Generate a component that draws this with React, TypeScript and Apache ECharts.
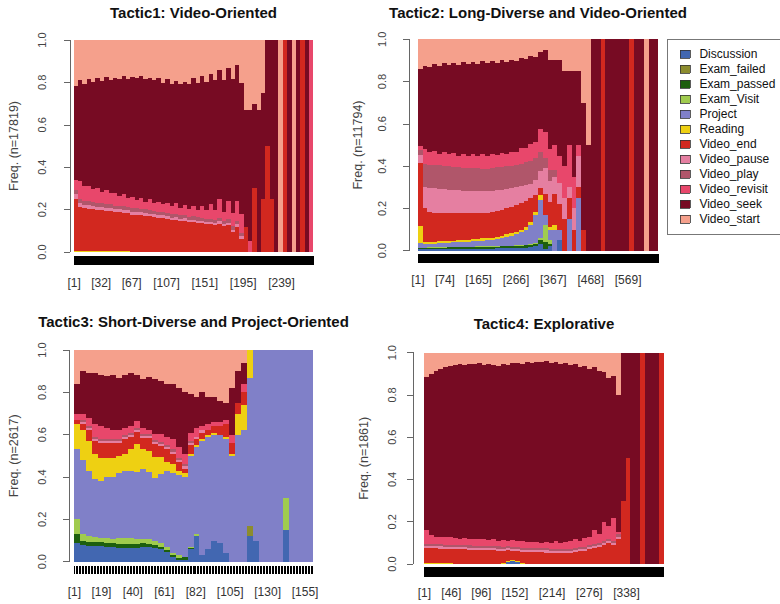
import { useEffect, useRef } from "react";
import * as echarts from "echarts";

const FONT = '"Liberation Sans", Arial, Helvetica, sans-serif';

const STATES = [
  "Discussion", "Exam_failed", "Exam_passed", "Exam_Visit", "Project", "Reading",
  "Video_end", "Video_pause", "Video_play", "Video_revisit", "Video_seek", "Video_start",
];
const STATE_COLORS = [
  "#4267b1", "#8c8c2e", "#1d5f0e", "#a0cb4e", "#8080c8", "#eed012",
  "#d2281f", "#e57fa1", "#b0566a", "#e8476b", "#770b23", "#f5a08c",
];

// ---------------- Tactic1 (275 positions, bins of 5) ----------------
const t1Title = "Tactic1: Video-Oriented";
const t1N = 17819;
const t1PositionCount = 275;
const t1TickLabels = [1, 32, 67, 107, 151, 195, 239];
const t1Reading = [
  0.006, 0.006, 0.005, 0.005, 0.005, 0.004, 0.004, 0.004, 0.004, 0.003,
  0.003, 0.003, 0.003, 0.002, 0.002, 0.002, 0.002, 0.002, 0, 0,
  0, 0, 0, 0, 0, 0, 0, 0, 0, 0,
  0, 0, 0, 0, 0, 0, 0, 0, 0, 0,
  0, 0, 0, 0, 0, 0, 0, 0, 0, 0,
  0, 0, 0, 0, 0,
];
const t1End = [
  0.25, 0.21, 0.205, 0.2, 0.2, 0.195, 0.195, 0.19, 0.19, 0.185,
  0.185, 0.18, 0.18, 0.175, 0.175, 0.17, 0.17, 0.165, 0.165, 0.16,
  0.16, 0.155, 0.15, 0.15, 0.145, 0.145, 0.14, 0.14, 0.135, 0.135,
  0.13, 0.13, 0.125, 0.13, 0.12, 0.125, 0.09, 0.12, 0.06, 0.12,
  0, 0.3, 0, 0.25, 0.5, 0.25, 0, 0, 1, 0,
  0, 0, 1, 0, 0,
];
const t1Pause = [
  0.02, 0.018, 0.017, 0.016, 0.016, 0.015, 0.015, 0.015, 0.015, 0.014,
  0.014, 0.014, 0.014, 0.014, 0.013, 0.013, 0.013, 0.013, 0.013, 0.013,
  0.013, 0.012, 0.012, 0.012, 0.012, 0.012, 0.012, 0.012, 0.012, 0.012,
  0.012, 0.012, 0.012, 0.012, 0.012, 0.012, 0.012, 0.012, 0.012, 0,
  0, 0, 0, 0, 0, 0, 0, 0, 0, 0,
  0, 0, 0, 0, 0,
];
const t1Play = [
  0.02, 0.02, 0.02, 0.019, 0.019, 0.019, 0.018, 0.018, 0.018, 0.018,
  0.018, 0.018, 0.017, 0.017, 0.017, 0.017, 0.017, 0.017, 0.016, 0.016,
  0.016, 0.016, 0.016, 0.016, 0.016, 0.016, 0.015, 0.015, 0.015, 0.015,
  0.015, 0.015, 0.015, 0.015, 0.015, 0.015, 0.015, 0.015, 0.015, 0,
  0, 0, 0, 0, 0, 0, 0, 0, 0, 0,
  0, 0, 0, 0, 0,
];
const t1Revisit = [
  0.05, 0.085, 0.07, 0.075, 0.06, 0.07, 0.055, 0.065, 0.05, 0.06,
  0.045, 0.055, 0.04, 0.05, 0.04, 0.05, 0.035, 0.05, 0.035, 0.045,
  0.035, 0.045, 0.04, 0.05, 0.035, 0.045, 0.035, 0.05, 0.035, 0.055,
  0.04, 0.07, 0.045, 0.09, 0.04, 0.085, 0.06, 0.1, 0.09, 0,
  0.05, 0, 0, 0, 0, 0, 0, 0, 0, 0,
  0, 0, 0, 0, 1,
];
const t1Seek = [
  0.45, 0.48, 0.49, 0.505, 0.515, 0.515, 0.525, 0.535, 0.535, 0.545,
  0.555, 0.555, 0.565, 0.57, 0.575, 0.57, 0.58, 0.57, 0.58, 0.58,
  0.57, 0.58, 0.575, 0.575, 0.585, 0.575, 0.59, 0.6, 0.595, 0.61,
  0.605, 0.61, 0.61, 0.6, 0.62, 0.62, 0.61, 0.65, 0.6, 0.55,
  0.62, 0.4, 0.67, 0.5, 0.5, 0.75, 1, 0, 0, 1,
  0, 1, 0, 1, 0,
];
const t1Start = [
  0.22, 0.19, 0.21, 0.185, 0.2, 0.18, 0.195, 0.175, 0.19, 0.18,
  0.185, 0.17, 0.185, 0.175, 0.18, 0.17, 0.185, 0.18, 0.19, 0.18,
  0.2, 0.185, 0.205, 0.19, 0.21, 0.195, 0.21, 0.18, 0.2, 0.17,
  0.2, 0.16, 0.19, 0.14, 0.19, 0.13, 0.18, 0.12, 0.2, 0.33,
  0.33, 0.3, 0.33, 0.25, 0, 0, 0, 1, 0, 0,
  1, 0, 0, 0, 0,
];

// ---------------- Tactic2 (650 positions, bins of 13) ----------------
const t2Title = "Tactic2: Long-Diverse and Video-Oriented";
const t2N = 11794;
const t2PositionCount = 650;
const t2TickLabels = [1, 74, 165, 266, 367, 468, 569];
const t2Discussion = [
  0.01, 0.008, 0.008, 0.008, 0.008, 0.008, 0.009, 0.009, 0.009, 0.009,
  0.009, 0.009, 0.01, 0.01, 0.01, 0.01, 0.011, 0.011, 0.012, 0.012,
  0.013, 0.014, 0.015, 0.017, 0.02, 0.03, 0.01, 0.02, 0, 0.05,
  0, 0, 0, 0, 0, 0, 0, 0, 0, 0,
  0, 0, 0, 0, 0, 0, 0, 0, 0, 0,
];
const t2ExamPassed = [
  0.005, 0.005, 0.006, 0.006, 0.007, 0.007, 0.007, 0.007, 0.007, 0.007,
  0.007, 0.008, 0.008, 0.008, 0.008, 0.008, 0.008, 0.009, 0.009, 0.009,
  0.01, 0.01, 0.01, 0.012, 0.012, 0.02, 0.03, 0.01, 0, 0,
  0, 0, 0, 0, 0, 0, 0, 0, 0, 0,
  0, 0, 0, 0, 0, 0, 0, 0, 0, 0,
];
const t2ExamVisit = [
  0, 0.002, 0.002, 0.002, 0.002, 0.002, 0.002, 0.002, 0.002, 0.002,
  0.002, 0.002, 0.002, 0.002, 0.002, 0.002, 0.002, 0.002, 0.002, 0.003,
  0.003, 0.003, 0.003, 0.004, 0.005, 0.01, 0.08, 0.02, 0, 0,
  0, 0, 0, 0, 0, 0, 0, 0, 0, 0,
  0, 0, 0, 0, 0, 0, 0, 0, 0, 0,
];
const t2Project = [
  0.02, 0.015, 0.016, 0.018, 0.019, 0.02, 0.02, 0.021, 0.022, 0.023,
  0.024, 0.025, 0.026, 0.028, 0.03, 0.032, 0.035, 0.038, 0.042, 0.046,
  0.052, 0.06, 0.072, 0.09, 0.13, 0.18, 0.05, 0.05, 0.1, 0.05,
  0, 0.15, 0, 0.25, 0, 0, 0, 0, 0, 0,
  0, 0, 0, 0, 0, 0, 0, 0, 0, 0,
];
const t2Reading = [
  0.08, 0.01, 0.008, 0.008, 0.008, 0.009, 0.009, 0.009, 0.009, 0.009,
  0.009, 0.009, 0.01, 0.01, 0.01, 0.01, 0.011, 0.011, 0.012, 0.012,
  0.012, 0.013, 0.014, 0.015, 0.018, 0.025, 0, 0.01, 0.02, 0,
  0, 0, 0, 0, 0, 0, 0, 0, 0, 0,
  0, 0, 0, 0, 0, 0, 0, 0, 0, 0,
];
const t2End = [
  0.3, 0.16, 0.145, 0.138, 0.134, 0.132, 0.13, 0.129, 0.128, 0.127,
  0.126, 0.125, 0.122, 0.121, 0.12, 0.12, 0.12, 0.121, 0.123, 0.125,
  0.125, 0.125, 0.12, 0.11, 0.08, 0.03, 0.1, 0.12, 0.15, 0.12,
  0.15, 0.1, 0.1, 0.05, 0.1, 0, 0, 0, 1, 0,
  0, 0, 0, 0, 1, 0, 0, 0, 0, 0,
];
const t2Pause = [
  0.04, 0.1, 0.11, 0.115, 0.114, 0.112, 0.111, 0.109, 0.108, 0.106,
  0.105, 0.104, 0.104, 0.103, 0.103, 0.102, 0.1, 0.097, 0.092, 0.088,
  0.085, 0.08, 0.076, 0.07, 0.07, 0.08, 0.12, 0.1, 0.08, 0.1,
  0.1, 0.05, 0.1, 0.15, 0, 0, 0, 0, 0, 0,
  0, 0, 0, 0, 0, 0, 0, 0, 0, 0,
];
const t2Play = [
  0.02, 0.11, 0.11, 0.11, 0.113, 0.112, 0.112, 0.112, 0.11, 0.109,
  0.108, 0.107, 0.106, 0.106, 0.105, 0.106, 0.107, 0.108, 0.108, 0.108,
  0.107, 0.107, 0.108, 0.107, 0.105, 0.09, 0.05, 0.05, 0.03, 0,
  0, 0, 0, 0, 0, 0, 0, 0, 0, 0,
  0, 0, 0, 0, 0, 0, 0, 0, 0, 0,
];
const t2Revisit = [
  0.02, 0.07, 0.06, 0.066, 0.054, 0.064, 0.056, 0.066, 0.055, 0.067,
  0.058, 0.068, 0.058, 0.069, 0.058, 0.068, 0.056, 0.067, 0.055, 0.066,
  0.058, 0.074, 0.066, 0.081, 0.074, 0.11, 0.12, 0.1, 0.12, 0.13,
  0.15, 0.2, 0.15, 0.05, 0, 0, 0, 0, 0, 0,
  0, 0, 0, 0, 0, 0, 0, 0, 0, 0,
];
const t2Seek = [
  0.365, 0.395, 0.405, 0.415, 0.417, 0.42, 0.424, 0.427, 0.43, 0.432,
  0.433, 0.434, 0.436, 0.438, 0.439, 0.438, 0.437, 0.435, 0.435, 0.434,
  0.43, 0.425, 0.42, 0.415, 0.4, 0.365, 0.39, 0.42, 0.4, 0.45,
  0.45, 0.35, 0.5, 0.35, 0.6, 0.5, 1, 1, 0, 1,
  1, 1, 1, 1, 0, 1, 1, 0, 1, 1,
];
const t2Start = [
  0.14, 0.125, 0.13, 0.115, 0.125, 0.112, 0.12, 0.11, 0.12, 0.108,
  0.118, 0.108, 0.115, 0.105, 0.113, 0.103, 0.112, 0.1, 0.108, 0.098,
  0.105, 0.09, 0.095, 0.08, 0.085, 0.06, 0.05, 0.1, 0.1, 0.1,
  0.15, 0.15, 0.15, 0.15, 0.3, 0.5, 0, 0, 0, 0,
  0, 0, 0, 0, 0, 0, 0, 1, 0, 0,
];

// ---------------- Tactic3 (160 positions, bins of 4) ----------------
const t3Title = "Tactic3: Short-Diverse and Project-Oriented";
const t3N = 2617;
const t3PositionCount = 160;
const t3TickLabels = [1, 19, 40, 61, 82, 105, 130, 155];
const t3Discussion = [
  0.09, 0.08, 0.075, 0.075, 0.072, 0.07, 0.068, 0.065, 0.065, 0.063,
  0.065, 0.07, 0.07, 0.065, 0.06, 0.047, 0.024, 0.008, 0.01, 0.06,
  0.12, 0.03, 0.06, 0.1, 0.09, 0.04, 0, 0, 0, 0.12,
  0.1, 0, 0, 0, 0, 0.15, 0, 0, 0, 0,
];
const t3ExamFailed = [
  0, 0, 0, 0, 0, 0, 0, 0, 0, 0,
  0, 0, 0, 0, 0, 0, 0, 0, 0, 0,
  0, 0, 0, 0, 0, 0, 0, 0, 0, 0.05,
  0, 0, 0, 0, 0, 0, 0, 0, 0, 0,
];
const t3ExamPassed = [
  0.04, 0.02, 0.02, 0.02, 0.02, 0.02, 0.02, 0.02, 0.02, 0.02,
  0.02, 0.02, 0.015, 0.015, 0.012, 0.01, 0.008, 0.01, 0.01, 0.005,
  0, 0, 0, 0, 0, 0, 0, 0, 0, 0,
  0, 0, 0, 0, 0, 0, 0, 0, 0, 0,
];
const t3ExamVisit = [
  0.07, 0.03, 0.025, 0.02, 0.02, 0.02, 0.02, 0.025, 0.025, 0.027,
  0.025, 0.02, 0.025, 0.02, 0.018, 0.013, 0.008, 0.012, 0, 0.005,
  0.01, 0, 0, 0, 0, 0, 0, 0, 0, 0,
  0, 0, 0, 0, 0, 0.15, 0, 0, 0, 0,
];
const t3Project = [
  0.33, 0.35, 0.31, 0.275, 0.268, 0.29, 0.292, 0.31, 0.32, 0.32,
  0.32, 0.33, 0.32, 0.3, 0.33, 0.36, 0.38, 0.38, 0.38, 0.43,
  0.41, 0.54, 0.53, 0.5, 0.51, 0.54, 0.5, 0.6, 0.62, 0.7,
  0.9, 1, 1, 1, 1, 0.7, 1, 1, 1, 1,
];
const t3Reading = [
  0.12, 0.14, 0.14, 0.12, 0.11, 0.09, 0.09, 0.08, 0.08, 0.1,
  0.13, 0.1, 0.1, 0.1, 0.08, 0.04, 0.04, 0.02, 0.02, 0.01,
  0.01, 0.01, 0.01, 0.01, 0, 0.01, 0.01, 0.1, 0.12, 0.13,
  0, 0, 0, 0, 0, 0, 0, 0, 0, 0,
];
const t3End = [
  0.02, 0.03, 0.05, 0.06, 0.07, 0.07, 0.07, 0.06, 0.07, 0.06,
  0.06, 0.05, 0.06, 0.06, 0.05, 0.06, 0.05, 0.04, 0.02, 0.04,
  0.03, 0.03, 0.02, 0.03, 0.04, 0.06, 0.05, 0.05, 0.06, 0,
  0, 0, 0, 0, 0, 0, 0, 0, 0, 0,
];
const t3Pause = [
  0, 0.01, 0.01, 0.01, 0.01, 0.01, 0.01, 0.01, 0.01, 0.01,
  0.01, 0.01, 0.01, 0.01, 0.01, 0.01, 0.01, 0.01, 0.01, 0.01,
  0.01, 0.01, 0, 0, 0, 0, 0, 0, 0, 0,
  0, 0, 0, 0, 0, 0, 0, 0, 0, 0,
];
const t3Play = [
  0, 0.01, 0.01, 0.01, 0.01, 0.01, 0.01, 0.01, 0.01, 0.01,
  0.01, 0.01, 0.01, 0.01, 0.01, 0.01, 0.01, 0.01, 0.01, 0.01,
  0, 0, 0, 0, 0, 0, 0, 0, 0, 0,
  0, 0, 0, 0, 0, 0, 0, 0, 0, 0,
];
const t3Revisit = [
  0.03, 0.03, 0.04, 0.06, 0.06, 0.05, 0.04, 0.04, 0.03, 0.03,
  0.03, 0.03, 0.02, 0.03, 0.04, 0.04, 0.05, 0.05, 0.05, 0.04,
  0.04, 0.02, 0.03, 0.02, 0.02, 0.02, 0.04, 0, 0.04, 0,
  0, 0, 0, 0, 0, 0, 0, 0, 0, 0,
];
const t3Seek = [
  0.14, 0.2, 0.21, 0.24, 0.24, 0.245, 0.26, 0.25, 0.25, 0.25,
  0.22, 0.23, 0.25, 0.26, 0.25, 0.25, 0.26, 0.28, 0.29, 0.18,
  0.15, 0.16, 0.13, 0.12, 0.1, 0.08, 0.22, 0.15, 0.1, 0,
  0, 0, 0, 0, 0, 0, 0, 0, 0, 0,
];
const t3Start = [
  0.16, 0.1, 0.11, 0.11, 0.12, 0.125, 0.12, 0.13, 0.12, 0.11,
  0.12, 0.14, 0.13, 0.14, 0.15, 0.16, 0.16, 0.18, 0.2, 0.21,
  0.22, 0.2, 0.22, 0.22, 0.24, 0.25, 0.18, 0.1, 0.06, 0,
  0, 0, 0, 0, 0, 0, 0, 0, 0, 0,
];

// ---------------- Tactic4 (400 positions, bins of 8) ----------------
const t4Title = "Tactic4: Explorative";
const t4N = 1861;
const t4PositionCount = 400;
const t4TickLabels = [1, 46, 96, 152, 214, 276, 338];
const t4Discussion = [
  0, 0, 0, 0, 0, 0, 0, 0, 0, 0,
  0, 0, 0, 0, 0, 0, 0, 0.008, 0.012, 0.01,
  0, 0, 0, 0, 0, 0, 0, 0, 0, 0,
  0, 0, 0, 0, 0, 0, 0, 0, 0, 0,
  0, 0, 0, 0, 0, 0, 0, 0, 0, 0,
];
const t4Reading = [
  0.005, 0.005, 0.004, 0.004, 0.003, 0.003, 0.002, 0.002, 0.002, 0.002,
  0.002, 0.002, 0.002, 0.002, 0.002, 0.002, 0.004, 0.008, 0.008, 0.006,
  0.003, 0.002, 0.002, 0.002, 0.002, 0.002, 0.002, 0.002, 0.002, 0.002,
  0.002, 0, 0, 0, 0, 0, 0, 0, 0, 0,
  0, 0, 0, 0, 0, 0, 0, 0, 0, 0,
];
const t4End = [
  0.07, 0.07, 0.07, 0.069, 0.069, 0.068, 0.068, 0.068, 0.067, 0.066,
  0.065, 0.064, 0.064, 0.063, 0.062, 0.061, 0.058, 0.048, 0.042, 0.044,
  0.055, 0.055, 0.054, 0.053, 0.053, 0.052, 0.051, 0.05, 0.05, 0.048,
  0.048, 0.055, 0.06, 0.06, 0.07, 0.075, 0.08, 0.09, 0.1, 0.09,
  0.12, 0.3, 0.5, 0, 0, 1, 0, 0, 0, 1,
];
const t4Pause = [
  0.01, 0.01, 0.01, 0.01, 0.01, 0.01, 0.01, 0.01, 0.01, 0.01,
  0.01, 0.01, 0.01, 0.01, 0.01, 0.01, 0.01, 0.01, 0.01, 0.01,
  0.01, 0.01, 0.01, 0.01, 0.01, 0.01, 0.01, 0.01, 0.01, 0.01,
  0.01, 0.01, 0.01, 0.01, 0.01, 0.01, 0.01, 0.01, 0.01, 0.01,
  0.01, 0, 0, 0, 0, 0, 0, 0, 0, 0,
];
const t4Play = [
  0.01, 0.01, 0.01, 0.01, 0.01, 0.01, 0.01, 0.01, 0.01, 0.01,
  0.01, 0.01, 0.01, 0.01, 0.01, 0.01, 0.01, 0.01, 0.01, 0.01,
  0.01, 0.01, 0.01, 0.01, 0.01, 0.01, 0.01, 0.01, 0.01, 0.01,
  0.01, 0.01, 0.01, 0.01, 0.01, 0.01, 0.01, 0.01, 0.01, 0.01,
  0.01, 0, 0, 0, 0, 0, 0, 0, 0, 0,
];
const t4Revisit = [
  0.065, 0.04, 0.036, 0.037, 0.036, 0.035, 0.035, 0.03, 0.033, 0.03,
  0.033, 0.03, 0.032, 0.029, 0.032, 0.027, 0.03, 0.026, 0.033, 0.03,
  0.03, 0.029, 0.028, 0.031, 0.025, 0.031, 0.027, 0.038, 0.028, 0.035,
  0.04, 0.045, 0.03, 0.045, 0.04, 0.065, 0.04, 0.09, 0.06, 0.11,
  0.01, 0, 0, 0, 0, 0, 0, 0, 0, 0,
];
const t4Seek = [
  0.725, 0.765, 0.785, 0.795, 0.802, 0.809, 0.815, 0.825, 0.818, 0.83,
  0.825, 0.834, 0.824, 0.831, 0.824, 0.828, 0.833, 0.83, 0.835, 0.842,
  0.84, 0.849, 0.846, 0.852, 0.855, 0.855, 0.852, 0.848, 0.845, 0.845,
  0.83, 0.825, 0.82, 0.81, 0.795, 0.77, 0.775, 0.71, 0.7, 0.67,
  0.65, 0.7, 0.5, 1, 1, 0, 1, 1, 1, 0,
];
const t4Start = [
  0.115, 0.1, 0.085, 0.075, 0.07, 0.065, 0.06, 0.055, 0.06, 0.052,
  0.055, 0.05, 0.058, 0.055, 0.06, 0.062, 0.055, 0.06, 0.05, 0.048,
  0.052, 0.045, 0.05, 0.042, 0.045, 0.04, 0.048, 0.042, 0.055, 0.05,
  0.06, 0.055, 0.07, 0.065, 0.075, 0.07, 0.085, 0.09, 0.12, 0.11,
  0.2, 0, 0, 0, 0, 0, 0, 0, 0, 0,
];

type Layout = {
  left: number; top: number; width: number; height: number;
  yOffset: number; yLabelMargin: number; yNameGap: number;
  xOffset: number; tickLen: number; xLabelMargin: number;
  titleX: number; titleY: number;
};
type Panel = {
  title: string; n: number; positionCount: number; tickLabels: number[];
  data: Record<string, number[]>; layout: Layout;
};

const PANELS: Panel[] = [
  {
    title: t1Title, n: t1N, positionCount: t1PositionCount, tickLabels: t1TickLabels,
    data: {
      Reading: t1Reading, Video_end: t1End, Video_pause: t1Pause, Video_play: t1Play,
      Video_revisit: t1Revisit, Video_seek: t1Seek, Video_start: t1Start,
    },
    layout: { left: 73.7, top: 40, width: 239.6, height: 212, yOffset: 3.7, yLabelMargin: 23, yNameGap: 50,
      xOffset: 4, tickLen: 9, xLabelMargin: 21, titleX: 193.5, titleY: 12 },
  },
  {
    title: t2Title, n: t2N, positionCount: t2PositionCount, tickLabels: t2TickLabels,
    data: {
      Discussion: t2Discussion, Exam_passed: t2ExamPassed, Exam_Visit: t2ExamVisit, Project: t2Project,
      Reading: t2Reading, Video_end: t2End, Video_pause: t2Pause, Video_play: t2Play,
      Video_revisit: t2Revisit, Video_seek: t2Seek, Video_start: t2Start,
    },
    layout: { left: 417.7, top: 39.3, width: 240.6, height: 211.4, yOffset: 8.7, yLabelMargin: 22, yNameGap: 45,
      xOffset: 3.3, tickLen: 9, xLabelMargin: 20, titleX: 538, titleY: 12 },
  },
  {
    title: t3Title, n: t3N, positionCount: t3PositionCount, tickLabels: t3TickLabels,
    data: {
      Discussion: t3Discussion, Exam_failed: t3ExamFailed, Exam_passed: t3ExamPassed, Exam_Visit: t3ExamVisit,
      Project: t3Project, Reading: t3Reading, Video_end: t3End, Video_pause: t3Pause, Video_play: t3Play,
      Video_revisit: t3Revisit, Video_seek: t3Seek, Video_start: t3Start,
    },
    layout: { left: 73.7, top: 350, width: 239.6, height: 211.7, yOffset: 4.7, yLabelMargin: 22, yNameGap: 49,
      xOffset: 4, tickLen: 8.3, xLabelMargin: 20, titleX: 193.5, titleY: 321.7 },
  },
  {
    title: t4Title, n: t4N, positionCount: t4PositionCount, tickLabels: t4TickLabels,
    data: {
      Discussion: t4Discussion, Reading: t4Reading, Video_end: t4End, Video_pause: t4Pause, Video_play: t4Play,
      Video_revisit: t4Revisit, Video_seek: t4Seek, Video_start: t4Start,
    },
    layout: { left: 424, top: 352.7, width: 240, height: 211.3, yOffset: 11, yLabelMargin: 16, yNameGap: 43,
      xOffset: 2.7, tickLen: 10, xLabelMargin: 20, titleX: 544, titleY: 323 },
  },
];

function buildOption(): any {
  const grid: any[] = [];
  const xAxis: any[] = [];
  const yAxis: any[] = [];
  const series: any[] = [];
  const graphic: any[] = [];

  PANELS.forEach((p, pi) => {
    const L = p.layout;
    const binCount = Object.values(p.data)[0].length;
    grid.push({ left: L.left, top: L.top, width: L.width, height: L.height, containLabel: false, outerBoundsMode: "none" });

    xAxis.push({
      type: "category", gridIndex: pi, position: "top", show: false, boundaryGap: true,
      data: Array.from({ length: binCount }, (_, i) => String(i)),
      axisLine: { show: false }, axisTick: { show: false }, axisLabel: { show: false },
      splitLine: { show: false }, splitArea: { show: false },
    });
    const labelSet = new Set(p.tickLabels);
    xAxis.push({
      type: "category", gridIndex: pi, position: "bottom", offset: L.xOffset, boundaryGap: true,
      data: Array.from({ length: p.positionCount }, (_, i) => `[${i + 1}]`),
      axisLine: { show: false },
      axisTick: { show: true, interval: 0, alignWithLabel: true, length: L.tickLen, lineStyle: { color: "#000", width: 1 } },
      axisLabel: {
        interval: (i: number) => labelSet.has(i + 1),
        fontFamily: FONT, fontSize: 12, color: "#333", margin: L.xLabelMargin,
      },
      splitLine: { show: false }, splitArea: { show: false },
    });
    yAxis.push({
      type: "value", gridIndex: pi, min: 0, max: 1, interval: 0.2, position: "left", offset: L.yOffset,
      axisLine: { show: true, lineStyle: { color: "#666", width: 1 } },
      axisTick: { show: true, length: 6, lineStyle: { color: "#666", width: 1 } },
      splitLine: { show: false }, splitArea: { show: false },
      axisLabel: {
        rotate: 90, formatter: (v: number) => v.toFixed(1),
        fontFamily: FONT, fontSize: 11, color: "#444", margin: L.yLabelMargin,
      },
      name: `Freq. (n=${p.n})`, nameLocation: "middle", nameRotate: 90, nameGap: L.yNameGap,
      nameTextStyle: { fontFamily: FONT, fontSize: 12.5, color: "#444" },
    });

    const totals: number[] = [];
    for (let b = 0; b < binCount; b++) {
      let s = 0;
      STATES.forEach((st) => { const arr = p.data[st]; if (arr) s += arr[b] || 0; });
      totals.push(s || 1);
    }
    STATES.forEach((st, si) => {
      const arr = p.data[st];
      if (!arr) return;
      const color = STATE_COLORS[si];
      series.push({
        type: "bar", name: st, xAxisIndex: 2 * pi, yAxisIndex: pi, stack: "tactic" + pi,
        barWidth: "100%", barCategoryGap: "0%", barGap: "0%",
        data: arr.map((v, b) => (v > 0 ? v / totals[b] : "-")),
        itemStyle: { color, borderWidth: 0 },
        emphasis: { disabled: true }, silent: true,
      });
    });

    graphic.push({
      type: "text", x: L.titleX, y: L.titleY, silent: true,
      style: {
        text: p.title, font: `bold 15px ${FONT}`, fill: "#111",
        textAlign: "center", textVerticalAlign: "middle", align: "center", verticalAlign: "middle",
      },
    });
  });

  return {
    animation: false,
    backgroundColor: "#ffffff",
    grid, xAxis, yAxis, series, graphic,
    legend: {
      orient: "vertical", left: 667, top: 39, icon: "rect",
      itemWidth: 10, itemHeight: 8, itemGap: 3,
      padding: [9, 40, 9, 13],
      borderColor: "#777", borderWidth: 1, backgroundColor: "#fff",
      textStyle: { fontFamily: FONT, fontSize: 12, color: "#111", lineHeight: 12, padding: [0, 0, 0, 4] },
      itemStyle: { borderColor: "#333", borderWidth: 0.8 },
      selectedMode: false,
      data: STATES,
    },
  };
}

export default function App() {
  const ref = useRef<HTMLDivElement>(null);
  useEffect(() => {
    if (!ref.current) return;
    const chart = echarts.init(ref.current, undefined, { renderer: "svg" });
    chart.setOption(buildOption());
    return () => chart.dispose();
  }, []);
  return (
    <>
      <style>{"#seq-chart svg path { shape-rendering: crispEdges; }"}</style>
      <div
        id="seq-chart"
        ref={ref}
        style={{ position: "fixed", left: 0, top: 0, width: 780, height: 604, background: "#fff" }}
      />
    </>
  );
}
